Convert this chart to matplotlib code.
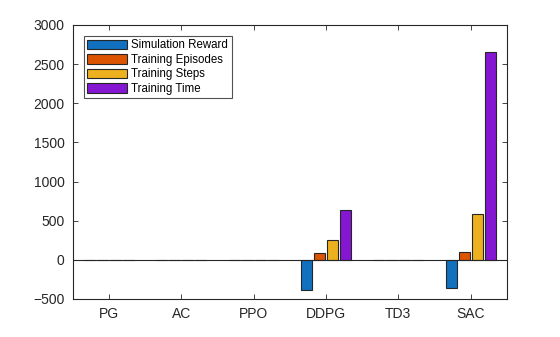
import numpy as np
import matplotlib
matplotlib.use("Agg")
import matplotlib.pyplot as plt

# -----------------------------
# DATA
# -----------------------------
algorithms = ["PG", "AC", "PPO", "DDPG", "TD3", "SAC"]
sim_reward = [0, 0, 0, -383, 0, -362]
train_episodes = [0, 0, 0, 88, 0, 100]
train_steps = [0, 0, 0, 252, 0, 585]
train_time = [0, 0, 0, 635, 0, 2652]

series_names = ["Simulation Reward", "Training Episodes", "Training Steps", "Training Time"]
colors = ["#1171BE", "#DD5400", "#EDB120", "#8516D1"]

plt.rcParams["font.family"] = ["Liberation Sans", "DejaVu Sans"]

fig = plt.figure(figsize=(5.6, 3.37), dpi=100)
ax = fig.add_axes([0.13, 0.1128, 0.775, 0.8131])

x = np.arange(1, len(algorithms) + 1)
offsets = [-0.27, -0.09, 0.09, 0.27]
width = 0.15
all_series = [sim_reward, train_episodes, train_steps, train_time]

for vals, off, col, name in zip(all_series, offsets, colors, series_names):
    ax.bar(x + off, vals, width, color=col, edgecolor="#262626",
           linewidth=0.8, label=name, zorder=2)

# baseline at zero
ax.axhline(0, color="#262626", linewidth=0.8, zorder=3)

ax.set_xlim(0.5, 6.5)
ax.set_ylim(-500, 3000)
ax.set_xticks(x)
ax.set_xticklabels(algorithms)
ax.set_yticks(np.arange(-500, 3001, 500))

ax.tick_params(direction="in", top=True, right=True, length=3.5, width=0.6,
               colors="#262626", labelsize=10, pad=6)
for side in ax.spines.values():
    side.set_color("#262626")
    side.set_linewidth(0.8)

leg = ax.legend(loc="upper left", bbox_to_anchor=(0.025, 0.96), fontsize=8.3,
                frameon=True, fancybox=False, edgecolor="#262626",
                handlelength=3.5, handleheight=0.85, handletextpad=0.35,
                labelspacing=0.22, borderpad=0.3, borderaxespad=0)
leg.get_frame().set_linewidth(0.8)

fig.savefig("out.png", dpi=100)
